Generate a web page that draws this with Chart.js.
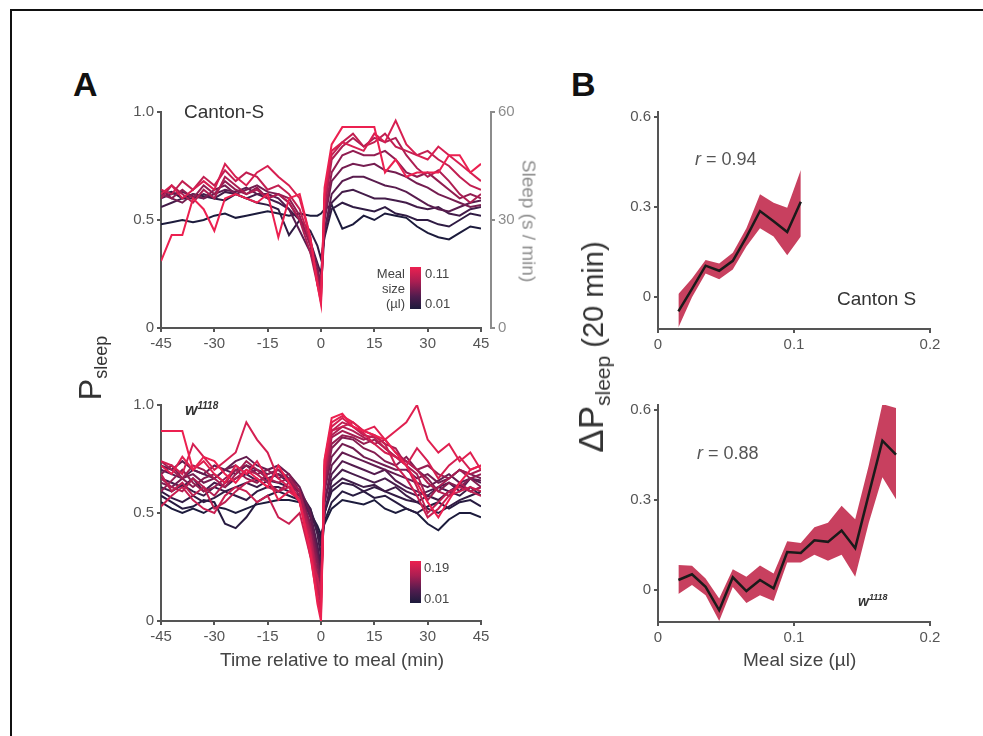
<!DOCTYPE html>
<html>
<head>
<meta charset="utf-8">
<script src="https://cdn.jsdelivr.net/npm/chart.js@4.4.1/dist/chart.umd.min.js"></script>
<style>
body{margin:0;background:#fff;width:983px;height:736px;position:relative;overflow:hidden;font-family:"Liberation Sans",Arial,sans-serif;color:#333}
.frame{position:absolute;left:10px;top:9px;width:1000px;height:800px;border-left:2px solid #111;border-top:2px solid #111}
canvas{position:absolute}
.t{position:absolute;line-height:1;white-space:nowrap}
.rot{position:absolute;line-height:1;white-space:nowrap;transform:translate(-50%,-50%) rotate(-90deg)}
.cbar{position:absolute;left:410px;width:11px;background:linear-gradient(to top,#1c1b3c,#501c4e 30%,#aa1e52 65%,#ec2050)}
.cb{font-size:13px;color:#444}
</style>
</head>
<body>
<div class="frame"></div>

<canvas id="cantonTrace" width="420" height="270" style="left:100px;top:95px"></canvas>
<canvas id="w1118Trace" width="420" height="290" style="left:100px;top:390px"></canvas>
<canvas id="cantonDelta" width="360" height="270" style="left:600px;top:95px"></canvas>
<canvas id="w1118Delta" width="360" height="290" style="left:600px;top:390px"></canvas>

<div class="t" style="left:73px;top:67px;font-size:34px;font-weight:bold;color:#111">A</div>
<div class="t" style="left:571px;top:67px;font-size:34px;font-weight:bold;color:#111">B</div>

<div class="t" style="left:184px;top:102px;font-size:19px;color:#333">Canton-S</div>
<div class="t" style="left:185px;top:401px;font-size:16px;font-weight:bold;font-style:italic;color:#333">w<sup style="font-size:10px">1118</sup></div>

<div class="rot" style="left:92px;top:368px;font-size:32px;color:#333">P<sub style="font-size:18px;vertical-align:-6px">sleep</sub></div>
<div class="rot" style="left:529px;top:221px;font-size:19px;color:#8c8c8c;transform:translate(-50%,-50%) rotate(90deg)">Sleep (s / min)</div>
<div class="rot" style="left:593px;top:347px;font-size:35px;color:#333">ΔP<sub style="font-size:21px;vertical-align:-7px">sleep</sub><span style="font-size:29px"> (20 min)</span></div>

<div class="t" style="left:220px;top:650px;font-size:19px;color:#444">Time relative to meal (min)</div>
<div class="t" style="left:743px;top:650px;font-size:19px;color:#444">Meal size (µl)</div>

<div class="t" style="left:695px;top:150px;font-size:18px;color:#555"><i>r</i> = 0.94</div>
<div class="t" style="left:697px;top:444px;font-size:18px;color:#555"><i>r</i> = 0.88</div>
<div class="t" style="left:837px;top:289px;font-size:19px;color:#333">Canton S</div>
<div class="t" style="left:858px;top:593px;font-size:14px;font-weight:bold;font-style:italic;color:#333">w<sup style="font-size:9px">1118</sup></div>

<div class="cbar" style="top:267px;height:42px"></div>
<div class="t cb" style="right:578px;top:267px">Meal</div>
<div class="t cb" style="right:578px;top:282px">size</div>
<div class="t cb" style="right:578px;top:297px">(µl)</div>
<div class="t cb" style="left:425px;top:267px">0.11</div>
<div class="t cb" style="left:425px;top:297px">0.01</div>

<div class="cbar" style="top:561px;height:42px"></div>
<div class="t cb" style="left:424px;top:561px">0.19</div>
<div class="t cb" style="left:424px;top:592px">0.01</div>

<script>
// time points (min relative to meal)
const times = [-45,-42,-39,-36,-33,-30,-27,-24,-21,-18,-15,-12,-9,-6,-3,-1,0,1,3,6,9,12,15,18,21,24,27,30,33,36,39,42,45];

// Canton-S sleep probability, one row per meal size bin (0.015 .. 0.105)
const cantonSizes = [0.015,0.025,0.035,0.045,0.055,0.065,0.075,0.085,0.095,0.105];
const cantonCurves = [
  [0.48,0.49,0.50,0.49,0.50,0.52,0.53,0.51,0.52,0.53,0.54,0.53,0.52,0.53,0.52, 0.52,0.53,0.55,0.57, 0.46,0.48,0.52,0.50,0.53,0.52,0.51,0.47,0.44,0.42,0.41,0.44,0.47,0.46],
  [0.62,0.63,0.60,0.62,0.61,0.60,0.59,0.62,0.60,0.58,0.57,0.55,0.43,0.50,0.45, 0.38,0.32,0.42,0.55, 0.58,0.56,0.55,0.54,0.56,0.53,0.52,0.50,0.50,0.48,0.47,0.50,0.53,0.52],
  [0.56,0.58,0.60,0.60,0.62,0.60,0.63,0.62,0.60,0.62,0.60,0.58,0.55,0.50,0.40, 0.30,0.25,0.45,0.58, 0.63,0.64,0.62,0.60,0.60,0.59,0.58,0.56,0.55,0.56,0.53,0.52,0.55,0.56],
  [0.60,0.62,0.63,0.61,0.60,0.62,0.64,0.63,0.65,0.62,0.62,0.60,0.55,0.45,0.35, 0.25,0.18,0.45,0.62, 0.68,0.70,0.70,0.68,0.66,0.65,0.63,0.60,0.57,0.55,0.54,0.56,0.58,0.59],
  [0.64,0.60,0.58,0.62,0.60,0.64,0.66,0.62,0.64,0.66,0.63,0.62,0.58,0.50,0.40, 0.28,0.20,0.50,0.68, 0.74,0.76,0.75,0.76,0.73,0.72,0.70,0.67,0.65,0.62,0.60,0.58,0.56,0.57],
  [0.62,0.60,0.64,0.60,0.66,0.62,0.68,0.64,0.62,0.65,0.60,0.62,0.60,0.52,0.38, 0.25,0.18,0.52,0.72, 0.80,0.82,0.80,0.80,0.82,0.78,0.72,0.70,0.72,0.68,0.64,0.60,0.62,0.60],
  [0.60,0.66,0.62,0.58,0.64,0.60,0.70,0.66,0.62,0.64,0.60,0.62,0.58,0.50,0.35, 0.20,0.15,0.55,0.78, 0.84,0.88,0.84,0.88,0.86,0.88,0.80,0.74,0.70,0.73,0.68,0.62,0.58,0.62],
  [0.64,0.62,0.68,0.64,0.70,0.66,0.73,0.68,0.72,0.70,0.64,0.66,0.62,0.55,0.40, 0.22,0.14,0.60,0.80, 0.86,0.90,0.84,0.86,0.90,0.84,0.82,0.80,0.82,0.78,0.75,0.70,0.66,0.64],
  [0.62,0.66,0.60,0.64,0.68,0.64,0.76,0.70,0.66,0.72,0.75,0.70,0.66,0.60,0.42, 0.20,0.12,0.62,0.82, 0.86,0.84,0.82,0.90,0.86,0.96,0.85,0.80,0.78,0.84,0.80,0.76,0.72,0.68],
  [0.31,0.43,0.43,0.60,0.55,0.45,0.60,0.62,0.60,0.58,0.62,0.42,0.60,0.62,0.42, 0.20,0.11,0.65,0.85, 0.93,0.93,0.93,0.93,0.72,0.78,0.70,0.72,0.72,0.72,0.80,0.80,0.72,0.76]
];

// w1118 sleep probability, meal size bins 0.015 .. 0.175
const w1118Sizes = [0.015,0.025,0.035,0.045,0.055,0.065,0.075,0.085,0.095,0.105,0.115,0.125,0.135,0.145,0.155,0.165,0.175];
const w1118Curves = [
  [0.55,0.52,0.50,0.52,0.50,0.53,0.52,0.50,0.52,0.54,0.55,0.56,0.56,0.55,0.50, 0.44,0.40,0.45,0.52, 0.56,0.55,0.54,0.56,0.52,0.50,0.52,0.50,0.45,0.42,0.47,0.50,0.50,0.48],
  [0.58,0.55,0.52,0.53,0.56,0.55,0.45,0.43,0.48,0.55,0.58,0.60,0.58,0.56,0.50, 0.42,0.38,0.46,0.55, 0.60,0.58,0.60,0.57,0.58,0.55,0.52,0.50,0.53,0.55,0.52,0.55,0.56,0.53],
  [0.60,0.57,0.55,0.58,0.55,0.57,0.60,0.58,0.56,0.60,0.62,0.62,0.60,0.58,0.52, 0.42,0.35,0.50,0.60, 0.64,0.63,0.60,0.62,0.60,0.58,0.56,0.55,0.52,0.50,0.53,0.56,0.58,0.60],
  [0.62,0.60,0.63,0.60,0.58,0.62,0.60,0.62,0.64,0.62,0.65,0.64,0.62,0.60,0.52, 0.40,0.30,0.50,0.62, 0.66,0.64,0.62,0.63,0.60,0.62,0.58,0.55,0.58,0.56,0.60,0.58,0.62,0.58],
  [0.66,0.64,0.62,0.66,0.60,0.64,0.62,0.66,0.68,0.65,0.66,0.68,0.64,0.60,0.50, 0.35,0.25,0.50,0.65, 0.70,0.68,0.66,0.64,0.66,0.63,0.60,0.58,0.60,0.62,0.60,0.63,0.60,0.62],
  [0.70,0.68,0.66,0.70,0.68,0.66,0.70,0.68,0.72,0.70,0.68,0.70,0.66,0.60,0.48, 0.32,0.22,0.55,0.68, 0.74,0.72,0.70,0.68,0.70,0.65,0.62,0.60,0.58,0.62,0.64,0.60,0.66,0.64],
  [0.72,0.70,0.74,0.70,0.68,0.72,0.70,0.74,0.76,0.72,0.70,0.72,0.68,0.62,0.50, 0.30,0.20,0.55,0.72, 0.78,0.76,0.74,0.72,0.70,0.68,0.66,0.64,0.62,0.65,0.68,0.64,0.66,0.65],
  [0.64,0.62,0.66,0.68,0.64,0.66,0.70,0.72,0.68,0.70,0.66,0.68,0.66,0.60,0.45, 0.28,0.18,0.60,0.76, 0.82,0.80,0.76,0.74,0.72,0.70,0.70,0.66,0.68,0.64,0.66,0.70,0.68,0.66],
  [0.68,0.72,0.66,0.62,0.66,0.68,0.64,0.70,0.72,0.68,0.70,0.66,0.68,0.60,0.44, 0.26,0.16,0.62,0.80, 0.85,0.84,0.80,0.78,0.74,0.72,0.76,0.70,0.66,0.60,0.64,0.62,0.66,0.62],
  [0.60,0.65,0.70,0.64,0.60,0.62,0.66,0.70,0.66,0.64,0.68,0.70,0.65,0.58,0.42, 0.22,0.14,0.64,0.82, 0.86,0.85,0.82,0.84,0.80,0.76,0.74,0.70,0.72,0.68,0.66,0.70,0.66,0.68],
  [0.74,0.70,0.66,0.72,0.70,0.66,0.62,0.68,0.74,0.70,0.66,0.64,0.66,0.60,0.40, 0.20,0.12,0.66,0.85, 0.88,0.86,0.84,0.86,0.82,0.80,0.72,0.68,0.56,0.62,0.66,0.70,0.68,0.70],
  [0.66,0.62,0.60,0.66,0.62,0.58,0.64,0.66,0.70,0.68,0.64,0.60,0.64,0.56,0.40, 0.18,0.10,0.68,0.86, 0.90,0.88,0.85,0.82,0.84,0.78,0.74,0.70,0.64,0.60,0.58,0.64,0.60,0.62],
  [0.68,0.60,0.64,0.58,0.62,0.52,0.55,0.60,0.64,0.66,0.62,0.60,0.62,0.55,0.38, 0.15,0.08,0.70,0.88, 0.92,0.90,0.86,0.85,0.80,0.76,0.72,0.62,0.50,0.55,0.60,0.62,0.60,0.58],
  [0.53,0.58,0.62,0.56,0.52,0.50,0.58,0.62,0.60,0.55,0.58,0.48,0.45,0.50,0.30, 0.20,0.12,0.70,0.88, 0.90,0.92,0.88,0.86,0.82,0.72,0.66,0.58,0.48,0.52,0.58,0.60,0.62,0.60],
  [0.74,0.72,0.68,0.82,0.76,0.70,0.74,0.78,0.92,0.84,0.78,0.66,0.62,0.55,0.35, 0.12,0.05,0.72,0.90, 0.94,0.90,0.87,0.82,0.78,0.76,0.72,0.80,0.74,0.66,0.72,0.76,0.70,0.72],
  [0.72,0.68,0.76,0.70,0.74,0.68,0.64,0.72,0.68,0.74,0.66,0.56,0.60,0.56,0.30, 0.10,0.03,0.74,0.92, 0.95,0.92,0.88,0.90,0.84,0.88,0.92,1.00,0.84,0.78,0.82,0.74,0.78,0.70],
  [0.88,0.88,0.88,0.70,0.76,0.74,0.68,0.64,0.70,0.66,0.62,0.72,0.64,0.55,0.32, 0.08,0.00,0.75,0.94, 0.96,0.90,0.88,0.86,0.84,0.78,0.72,0.64,0.55,0.48,0.56,0.64,0.70,0.72]
];

// panel B: change in P(sleep) over 20 min vs meal size
const cantonMean  = [-0.047,0.028,0.105,0.088,0.121,0.200,0.287,0.253,0.217,0.318];
const cantonUpper = [0.011,0.062,0.124,0.112,0.148,0.230,0.343,0.315,0.298,0.424];
const cantonLower = [-0.101,0.000,0.079,0.060,0.092,0.169,0.230,0.202,0.140,0.202];

const w1118Mean  = [0.034,0.053,0.011,-0.067,0.043,-0.003,0.034,0.006,0.127,0.124,0.166,0.161,0.199,0.140,0.320,0.498,0.452];
const w1118Upper = [0.084,0.081,0.039,-0.028,0.070,0.045,0.082,0.056,0.163,0.157,0.210,0.225,0.281,0.236,0.416,0.620,0.607];
const w1118Lower = [-0.013,0.017,-0.017,-0.103,0.011,-0.043,-0.017,-0.036,0.092,0.092,0.118,0.098,0.118,0.045,0.225,0.376,0.303];

const timeTicks = [-45,-30,-15,0,15,30,45];
const probTicks = [0,0.5,1];
const sleepTicks = [0,30,60];
const sizeTicks = [0,0.1,0.2];
const deltaTicks = [0,0.3,0.6];

const AXIS = '#555';
const FONT = '"Liberation Sans", Arial, sans-serif';

// dark navy -> purple -> crimson -> pink-red colour ramp
const RAMP = [[0, [28,27,60]], [0.3, [80,28,78]], [0.65, [170,30,82]], [1, [236,32,80]]];
function rampColor(f) {
    let i = 0;
    while (i < RAMP.length - 2 && f > RAMP[i + 1][0]) i++;
    const [p0, c0] = RAMP[i], [p1, c1] = RAMP[i + 1];
    const k = Math.min(1, Math.max(0, (f - p0) / (p1 - p0)));
    const c = c0.map((v, j) => Math.round(v + (c1[j] - v) * k));
    return `rgb(${c[0]},${c[1]},${c[2]})`;
}

function scale(min, max, ticks, fmt, size, opts) {
    return Object.assign({
        type: 'linear', min, max,
        afterBuildTicks: s => { s.ticks = ticks.map(v => ({ value: v })); },
        afterFit: s => { if (s.isHorizontal()) s.height = size; else s.width = size; },
        ticks: { callback: fmt, color: AXIS, font: { family: FONT, size: 15 }, padding: 3, maxRotation: 0, autoSkip: false },
        grid: { drawOnChartArea: false, drawTicks: true, tickLength: 4, color: AXIS, lineWidth: 2 },
        border: { color: AXIS, width: 2 }
    }, opts || {});
}

const fmtProb = v => (v === 0 ? '0' : v.toFixed(1));
const fmtTime = v => String(v);
const fmtDelta = v => (v === 0 ? '0' : v.toFixed(1));

function traceDatasets(sizes, curves) {
    const n = sizes.length;
    const sets = curves.map((row, i) => ({
        label: sizes[i].toFixed(3),
        data: row.map((v, j) => ({ x: times[j], y: v })),
        borderColor: rampColor(i / (n - 1)),
        borderWidth: 2,
        pointRadius: 0,
        tension: 0,
        fill: false
    }));
    return sets.reverse(); // largest meals drawn on top
}

const sleepAxis = {
    id: 'sleepAxis',
    afterDraw(chart) {
        const { ctx, chartArea, scales: { y } } = chart;
        const x = chartArea.right + 10;
        ctx.save();
        ctx.strokeStyle = '#8c8c8c';
        ctx.fillStyle = '#8c8c8c';
        ctx.lineWidth = 2;
        ctx.beginPath();
        ctx.moveTo(x, y.getPixelForValue(1) - 1);
        ctx.lineTo(x, y.getPixelForValue(0) + 1);
        ctx.stroke();
        ctx.font = '15px ' + FONT;
        ctx.textBaseline = 'middle';
        sleepTicks.forEach(v => {
            const py = y.getPixelForValue(v / 60);
            ctx.beginPath();
            ctx.moveTo(x, py);
            ctx.lineTo(x + 4, py);
            ctx.stroke();
            ctx.fillText(String(v), x + 7, py);
        });
        ctx.restore();
    }
};

function traceChart(id, sizes, curves, padTop, xHeight, plugins) {
    return new Chart(document.getElementById(id), {
        type: 'line',
        data: { datasets: traceDatasets(sizes, curves) },
        options: {
            responsive: false, animation: false,
            layout: { padding: { top: padTop, right: 39, left: 0, bottom: 0 } },
            plugins: { legend: { display: false }, tooltip: { enabled: false } },
            scales: {
                x: scale(-45, 45, timeTicks, fmtTime, xHeight),
                y: scale(0, 1, probTicks, fmtProb, 61)
            }
        },
        plugins: plugins || []
    });
}

function deltaChart(id, sizes, mean, upper, lower, padTop, xHeight) {
    const pts = arr => arr.map((v, i) => ({ x: sizes[i], y: v }));
    return new Chart(document.getElementById(id), {
        type: 'line',
        data: {
            datasets: [
                { data: pts(mean), borderColor: '#1a1a1a', borderWidth: 2.5, pointRadius: 0, tension: 0, fill: false },
                { data: pts(upper), borderWidth: 0, borderColor: 'rgba(0,0,0,0)', backgroundColor: '#c8405f', pointRadius: 0, tension: 0, fill: '+1' },
                { data: pts(lower), borderWidth: 0, borderColor: 'rgba(0,0,0,0)', pointRadius: 0, tension: 0, fill: false }
            ]
        },
        options: {
            responsive: false, animation: false,
            layout: { padding: { top: padTop, right: 30, left: 0, bottom: 0 } },
            plugins: { legend: { display: false }, tooltip: { enabled: false } },
            scales: {
                x: scale(0, 0.2, sizeTicks, v => (v === 0 ? '0' : v.toFixed(1)), xHeight),
                y: scale(-0.106, 0.617, deltaTicks, fmtDelta, 58, {})
            }
        }
    });
}

traceChart('cantonTrace', cantonSizes, cantonCurves, 17, 37, [sleepAxis]);
traceChart('w1118Trace', w1118Sizes, w1118Curves, 15, 59);
deltaChart('cantonDelta', cantonSizes, cantonMean, cantonUpper, cantonLower, 17, 36);
deltaChart('w1118Delta', w1118Sizes, w1118Mean, w1118Upper, w1118Lower, 15, 58);
</script>
</body>
</html>
